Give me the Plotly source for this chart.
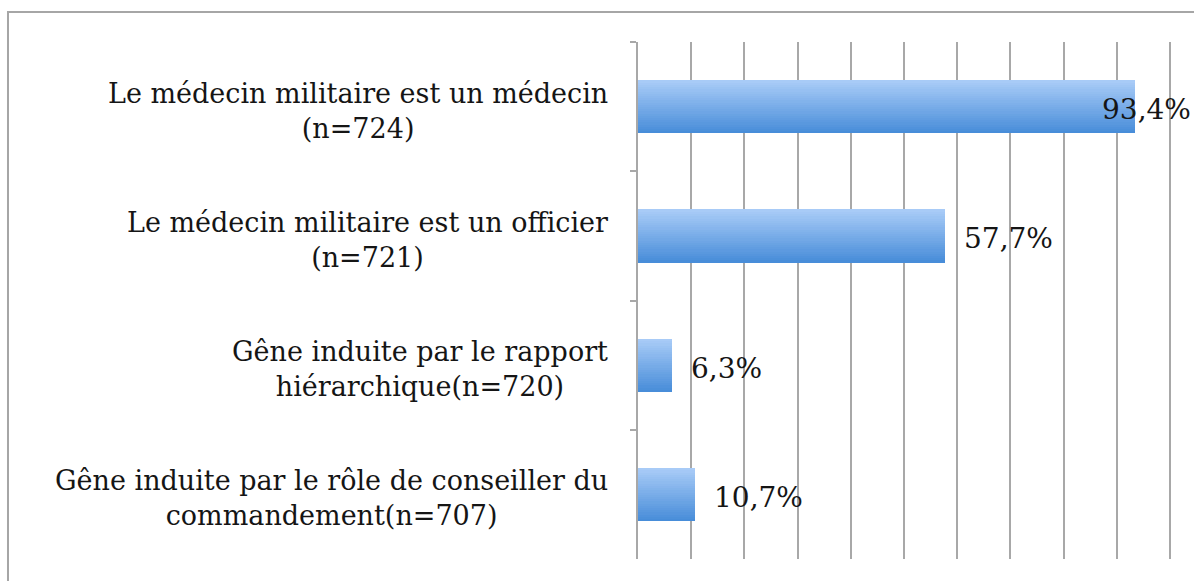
import plotly.graph_objects as go

# Survey results: share of respondents per statement
categories = [
    "Le médecin militaire est un médecin<br>(n=724)",
    "Le médecin militaire est un officier<br>(n=721)",
    "Gêne induite par le rapport<br>hiérarchique(n=720)",
    "Gêne induite par le rôle de conseiller du<br>commandement(n=707)",
]
values = [93.4, 57.7, 6.3, 10.7]

W, H = 1194, 581
FONT = "DejaVu Serif"
GRID = "#a8a8a8"

fig = go.Figure()

# Vertical gradient on the bars, built from thin stacked strips
bar_width = 0.41
n_strips = 24
top_rgb = (168, 203, 247)
bot_rgb = (72, 141, 217)
for k in range(n_strips):
    t = k / (n_strips - 1)
    rgb = tuple(round(bot_rgb[i] + (top_rgb[i] - bot_rgb[i]) * t) for i in range(3))
    fig.add_trace(go.Bar(
        y=categories,
        x=values,
        orientation="h",
        width=bar_width / n_strips * 1.15,
        offset=bar_width / 2 - (k + 1) * bar_width / n_strips,
        marker=dict(color="rgb(%d,%d,%d)" % rgb, line=dict(width=0)),
        hoverinfo="skip",
        showlegend=False,
    ))

# Category labels (centred multi-line text left of the axis)
for cat in categories:
    fig.add_annotation(
        x=0, y=cat, xref="x", yref="y",
        text=cat, showarrow=False,
        xanchor="right", yanchor="middle", align="center",
        xshift=-28, yshift=-4,
        font=dict(family=FONT, size=27, color="#151515"),
    )

# Value labels; a label that would run past the frame is pulled back over the bar end
for cat, v in zip(categories, values):
    label = ("%.1f" % v).replace(".", ",") + "%"
    fits = v < 85
    fig.add_annotation(
        x=v, y=cat, xref="x", yref="y",
        text=label, showarrow=False,
        xanchor="left", yanchor="middle",
        xshift=17 if fits else -35, yshift=-3,
        font=dict(family=FONT, size=28, color="#151515"),
    )

# Chart frame
fig.add_shape(
    type="rect", xref="paper", yref="paper",
    x0=-1.182, x1=1.06, y0=-0.08, y1=1.058,
    line=dict(color="#a6a6a6", width=2), fillcolor="rgba(0,0,0,0)",
    layer="below",
)

fig.update_layout(
    width=W, height=H,
    margin=dict(l=638, r=23, t=42, b=22),
    paper_bgcolor="white", plot_bgcolor="white",
    barmode="overlay",
    bargap=0,
)
fig.update_xaxes(
    range=[0, 100.2], tick0=0, dtick=10, showgrid=True, gridcolor=GRID, gridwidth=1.5,
    showticklabels=False, zeroline=False, showline=False, fixedrange=True,
)
fig.update_yaxes(
    autorange="reversed", showticklabels=False,
    ticks="outside", tickson="boundaries", ticklen=6, tickcolor=GRID, tickwidth=1.5,
    showline=True, linecolor=GRID, linewidth=1.5, showgrid=False, fixedrange=True,
)

fig.write_html("out.html", config={"displayModeBar": False})
